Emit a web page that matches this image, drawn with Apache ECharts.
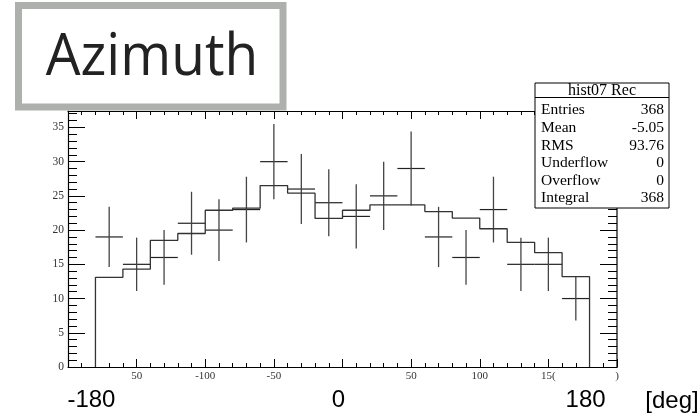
<!DOCTYPE html>
<html>
<head>
<meta charset="utf-8">
<script src="https://cdn.jsdelivr.net/npm/echarts@6/dist/echarts.min.js"></script>
<style>html,body{margin:0;padding:0;background:#fff}#c{width:700px;height:418px}</style>
</head>
<body>
<div id="c"></div>
<script>
// ---- data ----
var binEdges = [-180,-160,-140,-120,-100,-80,-60,-40,-20,0,20,40,60,80,100,120,140,160,180];
var histValues = [13.1,14.3,18.5,19.5,22.9,23.2,26.5,25.4,21.7,22.9,23.7,23.7,22.7,21.75,20.2,18.2,16.7,13.2];
var pointCounts = [19,15,16,21,20,23,30,26,24,22,25,29,19,16,23,15,15,10];
var pointErrors = [4.4,3.9,4.0,4.6,4.5,4.8,5.5,5.1,4.9,4.7,5.0,5.4,4.4,4.0,4.8,3.9,3.9,3.2];
var xSmallTickValues = [-150,-100,-50,50,100,150,200];
var xSmallTickLabels = ['50','-100','-50','50','100','15(',')'];
var xBigTickValues = [-180,0,180];
var xBigTickLabels = ['-180','0','180'];
var yTickValues = [0,5,10,15,20,25,30,35];
var titleText = 'Azimuth';
var unitText = '[deg]';
var statsTitle = 'hist07 Rec';
var statsNames = ['Entries','Mean','RMS','Underflow','Overflow','Integral'];
var statsValues = ['368','-5.05','93.76','0','0','368'];

// ---- build ----
var histLine = [[binEdges[0],0]];
for (var i=0;i<histValues.length;i++) histLine.push([binEdges[i], histValues[i]]);
histLine.push([binEdges[binEdges.length-1], histValues[histValues.length-1]]);
histLine.push([binEdges[binEdges.length-1], 0]);

var pts = [];
for (var j=0;j<pointCounts.length;j++) pts.push([binEdges[j], binEdges[j+1], pointCounts[j], pointErrors[j]]);

var chart = echarts.init(document.getElementById('c'), null, {renderer:'canvas'});
var YMAX = 37.4;
var serif = 'Liberation Serif';
var grid = {left:68, right:83, top:111, bottom:51, containLabel:false};

function yLab(v){ return yTickValues.indexOf(v) >= 0 ? String(v) : ''; }

var stats = [];
var bx=535, by=83, bw=134, bh=125;
var rowY = [109.5,128,145.8,163.3,181,198.3];
stats.push({type:'rect', z:100, shape:{x:bx,y:by,width:bw,height:bh}, style:{fill:'#fff', stroke:'#000', lineWidth:1}});
stats.push({type:'line', z:101, shape:{x1:bx,y1:97.5,x2:bx+bw,y2:97.5}, style:{stroke:'#000', lineWidth:1}});
stats.push({type:'text', z:101, x:bx+bw/2, y:91, style:{text:statsTitle, font:'16px "Liberation Serif"', fill:'#000', align:'center', verticalAlign:'middle'}});
for (var k=0;k<statsNames.length;k++){
  stats.push({type:'text', z:101, x:541, y:rowY[k], style:{text:statsNames[k], font:'15.5px "Liberation Serif"', fill:'#000', align:'left', verticalAlign:'middle'}});
  stats.push({type:'text', z:101, x:664, y:rowY[k], style:{text:statsValues[k], font:'15.5px "Liberation Serif"', fill:'#000', align:'right', verticalAlign:'middle'}});
}

var option = {
  animation:false,
  backgroundColor:'#fff',
  grid: grid,
  xAxis: [
    {type:'value', position:'bottom', min:-200, max:200, interval:50,
     axisLine:{show:true, onZero:false, lineStyle:{color:'#000', width:1.2}},
     axisTick:{show:true, inside:true, length:8, lineStyle:{color:'#000', width:1}},
     minorTick:{show:true, splitNumber:5, length:4, lineStyle:{color:'#000', width:1}},
     splitLine:{show:false},
     axisLabel:{show:true, margin:4, color:'#333', fontFamily:serif, fontSize:11,
       formatter:function(v){ var i=xSmallTickValues.indexOf(v); return i>=0? xSmallTickLabels[i] : ''; }}
    },
    {type:'value', position:'top', min:-200, max:200, interval:50,
     axisLine:{show:true, onZero:false, lineStyle:{color:'#000', width:1.2}},
     axisTick:{show:true, inside:true, length:8, lineStyle:{color:'#000', width:1}},
     minorTick:{show:true, splitNumber:5, length:4, lineStyle:{color:'#000', width:1}},
     splitLine:{show:false}, axisLabel:{show:false}
    },
    {type:'value', position:'bottom', min:-200, max:200, interval:20,
     axisLine:{show:false, onZero:false}, axisTick:{show:false}, splitLine:{show:false},
     axisLabel:{show:true, margin:21, color:'#000', fontFamily:'Liberation Sans', fontSize:24, padding:[0,8,0,0],
       formatter:function(v){ var i=xBigTickValues.indexOf(v); return i>=0? xBigTickLabels[i] : ''; }}
    }
  ],
  yAxis: [
    {type:'value', position:'left', min:0, max:YMAX, interval:5,
     axisLine:{show:true, onZero:false, lineStyle:{color:'#000', width:1.2}},
     axisTick:{show:true, inside:true, length:17, lineStyle:{color:'#000', width:1}},
     splitLine:{show:false},
     axisLabel:{show:true, margin:4, color:'#333', fontFamily:serif, fontSize:11.5, showMaxLabel:false, formatter:yLab}
    },
    {type:'value', position:'left', min:0, max:YMAX, interval:1,
     axisLine:{show:false, onZero:false}, splitLine:{show:false}, axisLabel:{show:false},
     axisTick:{show:true, inside:true, length:9, lineStyle:{color:'#000', width:1}}
    },
    {type:'value', position:'right', min:0, max:YMAX, interval:5,
     axisLine:{show:true, onZero:false, lineStyle:{color:'#666', width:2}},
     axisTick:{show:true, inside:true, length:17, lineStyle:{color:'#000', width:1}},
     splitLine:{show:false}, axisLabel:{show:false}
    },
    {type:'value', position:'right', min:0, max:YMAX, interval:1,
     axisLine:{show:false, onZero:false}, splitLine:{show:false}, axisLabel:{show:false},
     axisTick:{show:true, inside:true, length:9, lineStyle:{color:'#000', width:1}}
    }
  ],
  graphic: [
    {type:'rect', z:100, shape:{x:18.5, y:5.5, width:264.5, height:101.5}, style:{fill:'#fff', stroke:'#adb0ad', lineWidth:7}},
    {type:'text', z:101, x:152, y:58, scaleY:1.08, style:{text:titleText, font:'55px "Open Sans"', fill:'#222', align:'center', verticalAlign:'middle'}},
    {type:'text', z:101, x:672, y:401, style:{text:unitText, font:'24px "Liberation Sans"', fill:'#000', align:'center', verticalAlign:'middle'}}
  ].concat(stats),
  series: [
    {type:'line', xAxisIndex:0, yAxisIndex:0, data:histLine, step:'end', showSymbol:false, symbol:'none',
     lineStyle:{color:'#333', width:1.3}, silent:true},
    {type:'custom', xAxisIndex:0, yAxisIndex:0, data:pts, silent:true,
     renderItem:function(params, api){
       var lo=api.value(0), hi=api.value(1), c=api.value(2), e=api.value(3);
       var mid=(lo+hi)/2;
       var a=api.coord([lo,c]), b=api.coord([hi,c]);
       var t=api.coord([mid,c+e]), u=api.coord([mid,c-e]);
       return {type:'group', children:[
         {type:'line', shape:{x1:a[0],y1:a[1],x2:b[0],y2:b[1]}, style:{stroke:'#222', lineWidth:1.2}},
         {type:'line', shape:{x1:t[0],y1:t[1],x2:u[0],y2:u[1]}, style:{stroke:'#444', lineWidth:1.3}}
       ]};
     }}
  ]
};
chart.setOption(option);
</script>
</body>
</html>
